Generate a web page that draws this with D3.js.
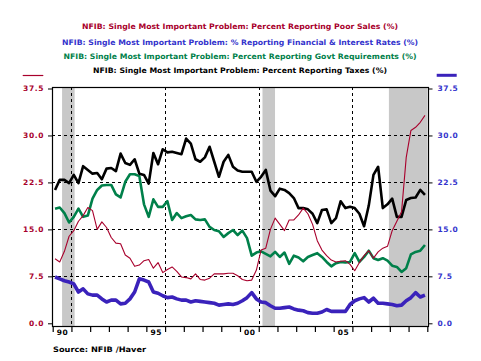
<!DOCTYPE html>
<html>
<head>
<meta charset="utf-8">
<script src="https://cdn.jsdelivr.net/npm/d3@7"></script>
<style>
	body{margin:0;background:#fff;}
	svg text{font-family:"DejaVu Sans",Verdana,sans-serif;font-weight:bold;}
</style>
</head>
<body>
<svg id="chart" width="481" height="361"></svg>
<script>
// quarterly values, 1990Q1 .. 2009Q4
var firstYear = 1990;
var poorSales = [10.3,9.8,11.5,13.9,14.8,16.3,17.2,18.5,18.0,15.0,16.2,15.3,13.7,12.8,12.7,10.9,10.4,9.1,9.3,10.0,
	10.2,8.8,9.7,8.1,8.6,9.0,8.3,7.4,7.3,7.1,7.9,7.0,6.9,7.2,7.9,7.9,7.9,8.0,8.0,7.6,
	7.0,6.8,6.9,8.5,11.7,12.0,15.0,16.8,15.8,14.8,16.5,16.5,17.3,18.4,17.5,15.8,13.2,11.7,10.8,10.1,
	9.8,9.9,10.0,9.4,8.4,9.7,10.8,11.6,10.4,11.4,12.0,12.3,14.8,16.3,17.8,26.5,30.8,31.3,32.1,33.2];
var finRates = [7.4,7.1,6.8,6.6,6.3,5.0,5.5,4.7,4.5,4.5,3.9,3.4,3.7,3.7,3.1,3.2,3.9,5.0,7.1,6.9,
	6.6,5.0,4.8,4.4,4.1,4.2,3.9,3.7,3.7,3.4,3.6,3.5,3.4,3.3,3.2,2.9,3.0,3.1,3.0,3.2,
	3.6,4.1,4.9,3.9,3.4,3.3,2.8,2.4,2.4,2.5,2.6,2.3,2.1,2.0,1.7,1.6,1.6,1.8,2.2,1.9,
	1.9,1.9,1.9,3.0,3.6,3.9,4.1,3.4,4.0,3.2,3.2,3.1,3.0,2.8,2.9,3.6,4.1,4.9,4.2,4.5];
var govtReq = [18.3,18.5,17.6,16.1,17.0,18.3,17.0,17.2,19.9,21.3,22.0,22.1,22.1,20.6,20.1,22.6,23.8,23.8,23.5,19.0,
	17.0,19.8,18.6,18.6,19.5,16.5,17.6,16.8,17.1,17.3,16.6,16.5,16.6,15.4,14.9,14.7,13.8,14.4,14.9,14.1,
	14.8,13.6,10.8,11.3,11.5,11.1,10.7,11.4,10.6,11.3,9.5,10.8,10.5,9.9,10.6,10.9,11.2,10.6,9.8,9.1,
	9.6,9.8,9.7,9.8,11.2,9.8,10.6,11.6,10.4,10.1,10.4,10.0,9.2,9.0,8.2,8.8,11.0,11.4,11.6,12.5];
var taxes = [21.3,22.9,22.9,22.4,23.7,22.4,25.1,24.5,23.9,24.0,23.0,24.7,24.8,24.3,27.1,25.6,25.3,26.2,23.9,23.7,
	22.3,27.2,25.4,27.8,27.3,27.4,27.2,27.0,29.5,28.7,26.2,25.8,26.5,28.2,25.8,23.4,25.8,26.9,25.0,24.4,
	24.2,24.2,24.2,22.6,23.4,24.5,21.2,20.3,21.5,21.3,20.8,20.0,18.4,18.4,18.2,17.5,16.0,18.1,18.2,16.0,
	16.8,19.5,18.4,18.6,18.4,17.5,15.5,18.8,23.7,25.0,18.4,19.0,19.9,17.0,17.0,19.7,20.0,20.1,21.3,20.5];

var yTicks = [0, 7.5, 15, 22.5, 30, 37.5];
var yearTicks = [1990,1991,1992,1993,1994,1995,1996,1997,1998,1999,2000,2001,2002,2003,2004,2005,2006,2007,2008,2009,2010];
var labelYears = [1990, 1995, 2000, 2005];
var yearLabels = ['90', '95', '00', '05'];
var gridYears = [1991, 1996, 2001, 2006];
var recessions = [[1990.5, 1991.17], [2001.2, 2001.87], [2007.95, 2010]];
var titles = [
	'NFIB: Single Most Important Problem: Percent Reporting Poor Sales (%)',
	'NFIB: Single Most Important Problem: % Reporting Financial & Interest Rates (%)',
	'NFIB: Single Most Important Problem: Percent Reporting Govt Requirements (%)',
	'NFIB: Single Most Important Problem: Percent Reporting Taxes (%)'
];

(function(){
	var svg = d3.select('#chart');
	var box = {l:52, r:428, t:87, b:326};
	var red = '#a8002c', blue = '#3a22bb', green = '#00804a';

	var x = d3.scaleLinear().domain([1990, 2010]).range([52.7, 427.3]);
	var y = d3.scaleLinear().domain([0, 37.5]).range([323.3, 88.5]);

	function dates(n){
		var d = [];
		for(var i = 0; i < n; i++) d.push(firstYear + (i + 0.5)/4);
		return d;
	}
	var qd = dates(taxes.length);

	// recession bars
	svg.append('g').selectAll('rect').data(recessions).enter().append('rect')
		.attr('x', function(r){ return x(r[0]); })
		.attr('y', box.t)
		.attr('width', function(r){ return Math.min(x(r[1]), box.r) - x(r[0]); })
		.attr('height', box.b - box.t)
		.attr('fill', '#c8c8c8');

	// grid
	var grid = svg.append('g').attr('stroke', '#000').attr('stroke-dasharray', '3,3');
	grid.selectAll('.hg').data(yTicks.slice(1, 5)).enter().append('line')
		.attr('x1', box.l).attr('x2', box.r)
		.attr('y1', function(d){ return Math.round(y(d)) + 0.5; })
		.attr('y2', function(d){ return Math.round(y(d)) + 0.5; });
	grid.selectAll('.vg').data(gridYears).enter().append('line')
		.attr('y1', box.t).attr('y2', box.b)
		.attr('x1', function(d){ return Math.round(x(d)) + 0.5; })
		.attr('x2', function(d){ return Math.round(x(d)) + 0.5; });

	// series
	function addLine(vals, color, w){
		var line = d3.line()
			.x(function(d, i){ return x(qd[i]); })
			.y(function(d){ return y(d); });
		svg.append('path').datum(vals)
			.attr('d', line)
			.attr('fill', 'none')
			.attr('stroke', color)
			.attr('stroke-width', w)
			.attr('stroke-linejoin', 'round');
	}
	addLine(govtReq, green, 2.6);
	addLine(taxes, '#000', 2.6);
	addLine(finRates, blue, 3.6);
	addLine(poorSales, red, 1.1);

	// frame
	svg.append('rect')
		.attr('x', box.l + 0.5).attr('y', box.t + 0.5)
		.attr('width', box.r - box.l).attr('height', box.b - box.t)
		.attr('fill', 'none').attr('stroke', '#000').attr('stroke-width', 1.2);

	// axes
	var gl = svg.append('g').attr('transform', 'translate(' + box.l + ',0)')
		.call(d3.axisLeft(y).tickValues(yTicks).tickSize(4).tickPadding(4).tickFormat(d3.format('.1f')));
	var gr = svg.append('g').attr('transform', 'translate(' + (box.r + 0.5) + ',0)')
		.call(d3.axisRight(y).tickValues(yTicks).tickSize(4).tickPadding(5).tickFormat(d3.format('.1f')));
	gl.selectAll('text').attr('fill', red);
	gr.selectAll('text').attr('fill', '#3333cc');

	var gb = svg.append('g').attr('transform', 'translate(0,' + (box.b + 1) + ')')
		.call(d3.axisBottom(x).tickValues(yearTicks).tickSize(5).tickFormat(''));
	var gbl = svg.append('g').attr('transform', 'translate(0,' + (box.b + 1) + ')')
		.call(d3.axisBottom(x).tickValues(labelYears.map(function(d){ return d + 0.5; }))
			.tickSize(0).tickPadding(3)
			.tickFormat(function(d, i){ return yearLabels[i]; }));

	[gl, gr, gb, gbl].forEach(function(g){
		g.select('.domain').remove();
		g.selectAll('text').attr('font-size', '7.5px').attr('font-family', '"DejaVu Sans",Verdana,sans-serif')
			.attr('font-weight', 'bold').style('letter-spacing', '0.6px');
		g.selectAll('line').attr('stroke', '#000');
	});
	gb.selectAll('line').attr('stroke-width', 1.2);

	// titles
	var tColors = [red, '#3333cc', green, '#000'];
	var tWidths = [316, 356, 353, 294];
	var tY = [29.3, 44.5, 58.8, 73.3];
	titles.forEach(function(t, i){
		svg.append('text')
			.attr('x', 240).attr('y', tY[i])
			.attr('text-anchor', 'middle')
			.attr('font-size', '7.5px')
			.attr('fill', tColors[i])
			.attr('textLength', tWidths[i])
			.attr('lengthAdjust', 'spacingAndGlyphs')
			.text(t);
	});

	// axis keys
	svg.append('line').attr('x1', 22.7).attr('x2', 43.3).attr('y1', 75.5).attr('y2', 75.5)
		.attr('stroke', red).attr('stroke-width', 1.2);
	svg.append('line').attr('x1', 436.7).attr('x2', 456.7).attr('y1', 75.3).attr('y2', 75.3)
		.attr('stroke', blue).attr('stroke-width', 3);

	svg.append('text').attr('x', 53).attr('y', 352)
		.attr('font-size', '7.5px').attr('fill', '#000')
		.attr('textLength', 93).attr('lengthAdjust', 'spacingAndGlyphs')
		.text('Source:  NFIB /Haver');
})();
</script>
</body>
</html>
